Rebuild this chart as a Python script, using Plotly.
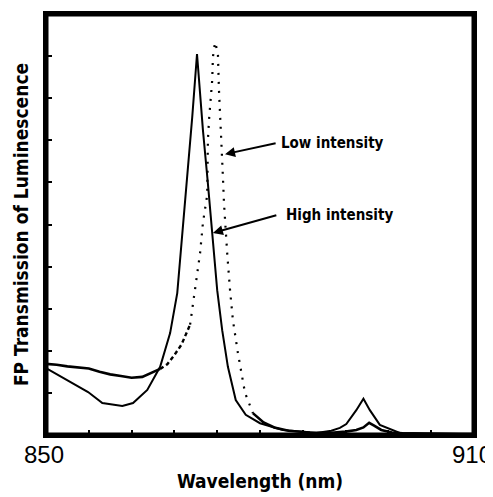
import numpy as np
import plotly.graph_objects as go

# Wavelength (nm) and relative FP transmission (arbitrary units, 0-10 tick grid)
high_wl = [850.0, 852.9, 855.9, 857.9, 860.7, 862.2, 864.2, 866.0, 867.4, 868.4,
           869.2, 870.5, 871.17, 872.0, 872.65, 873.27, 874.0, 874.7, 875.5, 876.6,
           878.0, 880.0, 883.2, 887.9, 890.0, 891.2, 892.1, 893.5, 894.5, 895.4,
           896.8, 899.6, 905.0, 910.0]
high_val = [1.59, 1.31, 1.02, 0.76, 0.69, 0.76, 1.07, 1.62, 2.42, 3.37,
            4.94, 7.55, 9.05, 7.24, 6.06, 4.94, 3.44, 2.49, 1.62, 0.83,
            0.48, 0.28, 0.12, 0.05, 0.10, 0.17, 0.26, 0.59, 0.86, 0.59,
            0.24, 0.05, 0.03, 0.02]

low_wl = [850.0, 851.5, 853.0, 854.5, 856.0, 857.5, 859.0, 860.5, 862.0, 863.5,
          865.0, 866.0, 867.0, 868.0, 869.0, 870.2, 870.9, 871.6, 872.0, 872.3,
          872.6, 872.7, 872.85, 873.3, 873.4, 873.7, 874.1, 874.25, 874.4, 874.55,
          874.7, 874.8, 874.95, 875.1, 875.4, 875.8, 876.2, 876.9, 877.9, 879.0,
          880.5, 882.0, 884.0, 887.0, 890.0, 892.0, 893.5, 894.5, 895.3, 896.0,
          897.0, 898.5, 900.0, 903.0, 906.0, 910.0]
low_val = [1.69, 1.67, 1.63, 1.60, 1.58, 1.50, 1.44, 1.40, 1.36, 1.38,
           1.50, 1.57, 1.68, 1.90, 2.15, 2.62, 3.52, 4.32, 5.04, 5.34,
           5.70, 7.01, 7.48, 8.43, 8.98, 9.33, 9.07, 8.19, 7.70, 7.17,
           6.65, 6.13, 5.51, 5.08, 4.32, 3.44, 2.73, 1.95, 1.00, 0.52,
           0.30, 0.18, 0.10, 0.06, 0.05, 0.08, 0.12, 0.18, 0.29, 0.22,
           0.12, 0.06, 0.04, 0.03, 0.02, 0.02]

x_range = [850, 910]
y_range = [0, 10]
x_tick_vals = [850, 856, 862, 868, 874, 880, 886, 892, 898, 904, 910]
x_tick_text = ["850", "", "", "", "", "", "", "", "", "", "910"]
y_tick_vals = [0, 1, 2, 3, 4, 5, 6, 7, 8, 9, 10]

FONT = "DejaVu Sans Condensed"

lw = np.array(low_wl)
lv = np.array(low_val)

fig = go.Figure()
fig.add_trace(go.Scatter(x=high_wl, y=high_val, mode="lines",
                         line=dict(color="black", width=2), showlegend=False))

segments = [
    (850.0, 866.0, "solid", 2.6),
    (866.0, 870.2, "4px,3px", 2.4),
    (870.2, 879.0, "2px,7px", 2.2),
    (879.0, 910.0, "solid", 2.6),
]
for lo, hi, dash, w in segments:
    m = (lw >= lo) & (lw <= hi)
    fig.add_trace(go.Scatter(x=lw[m], y=lv[m], mode="lines",
                             line=dict(color="black", width=w, dash=dash),
                             showlegend=False))

# plot frame following the axis ranges (half of the width lies inside the area)
fig.add_trace(go.Scatter(x=[x_range[0], x_range[1], x_range[1], x_range[0], x_range[0]],
                         y=[y_range[0], y_range[0], y_range[1], y_range[1], y_range[0]],
                         mode="lines", line=dict(color="black", width=5),
                         hoverinfo="skip", showlegend=False))

# annotations: arrows + labels
arrows = [
    (875.1, 6.67, 882.4, 6.94),
    (873.4, 4.80, 882.5, 5.23),
]
for hx, hy, tx, ty in arrows:
    fig.add_annotation(x=hx, y=hy, ax=tx, ay=ty, xref="x", yref="y",
                       axref="x", ayref="y", text="", showarrow=True,
                       arrowhead=2, arrowsize=1, arrowwidth=2, arrowcolor="black")
fig.add_annotation(x=882.6, y=6.94, text="<b>Low intensity</b>", showarrow=False,
                   xanchor="left", yanchor="middle",
                   font=dict(family=FONT, size=15, color="black"))
fig.add_annotation(x=883.4, y=5.23, text="<b>High intensity</b>", showarrow=False,
                   xanchor="left", yanchor="middle",
                   font=dict(family=FONT, size=15, color="black"))

fig.update_xaxes(range=x_range, showline=True, linewidth=3, linecolor="black",
                 mirror=True, showgrid=False, zeroline=False, automargin=False,
                 tickmode="array", tickvals=x_tick_vals, ticktext=x_tick_text,
                 ticks="inside", ticklen=5, tickwidth=2, tickcolor="black",
                 ticklabeloverflow="allow", ticklabelstandoff=-4, ticklabelshift=-2,
                 tickfont=dict(family="Liberation Sans", size=24, color="black"),
                 title=dict(text="<b>Wavelength (nm)</b>", standoff=8,
                            font=dict(family=FONT, size=19, color="black")))
fig.update_yaxes(range=y_range, showline=True, linewidth=3, linecolor="black",
                 mirror=True, showgrid=False, zeroline=False, automargin=False,
                 tickmode="array", tickvals=y_tick_vals, showticklabels=False,
                 ticks="inside", ticklen=6, tickwidth=2, tickcolor="black",
                 title=dict(text="<b>FP Transmission of Luminescence</b>", standoff=10,
                            font=dict(family=FONT, size=19, color="black")))

# the page adds an 8px body margin, so the figure is sized to fit the window
fig.update_layout(width=485, height=489, margin=dict(l=38, r=19, t=6, b=62, autoexpand=False),
                  plot_bgcolor="white", paper_bgcolor="white")

fig.write_html("out.html")
